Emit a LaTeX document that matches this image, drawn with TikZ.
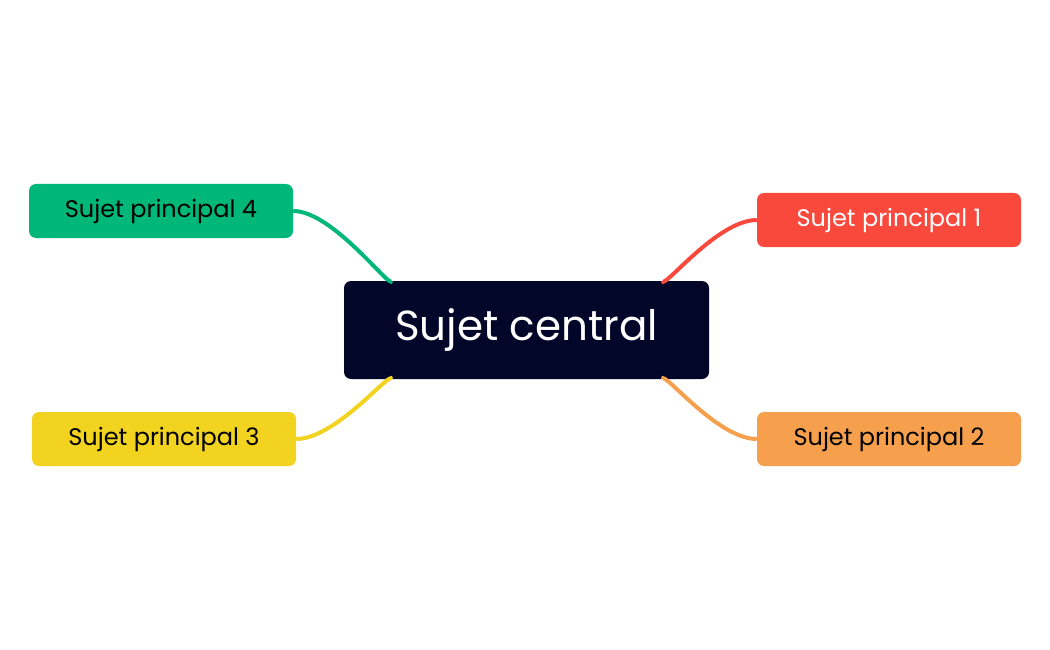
\documentclass[tikz,border=0pt]{standalone}
\usepackage{fontspec}
\setmainfont{Poppins}
\definecolor{navy}{HTML}{020628}
\definecolor{cred}{HTML}{F9483C}
\definecolor{corange}{HTML}{F6A04D}
\definecolor{cyellow}{HTML}{F2D31F}
\definecolor{cgreen}{HTML}{00B77A}
\begin{document}
\begin{tikzpicture}[x=1pt,y=-1pt,
  topic/.style={rounded corners=7pt,minimum width=264pt,minimum height=54pt,inner sep=0pt,font=\fontsize{24}{26}\selectfont},
  link/.style={line width=4pt}]
\useasboundingbox (0,0) rectangle (1050,650);
\node[fill=navy,rounded corners=7pt,minimum width=365pt,minimum height=98pt,text=white,font=\fontsize{42}{46}\selectfont] (c) at (526.5,330) {Sujet central};
\node[topic,fill=cred,text=white] (n1) at (889,220) {Sujet principal 1};
\node[topic,fill=corange] (n2) at (889,439) {Sujet principal 2};
\node[topic,fill=cyellow] (n3) at (164,439) {Sujet principal 3};
\node[topic,fill=cgreen] (n4) at (161,211) {Sujet principal 4};
\coordinate (a1) at ([xshift=136pt]c.north);
\coordinate (a2) at ([xshift=136pt]c.south);
\coordinate (a3) at ([xshift=-135pt]c.south);
\coordinate (a4) at ([xshift=-135pt]c.north);
\begin{scope}[on background layer/.style={}]
\draw[link,cred] (a1) .. controls ++(0,-10pt) and ++(-40pt,0) .. ([yshift=0pt]n1.west);
\draw[link,corange] (a2) .. controls ++(0,10pt) and ++(-40pt,0) .. (n2.west);
\draw[link,cyellow] (a3) .. controls ++(0,10pt) and ++(40pt,0) .. (n3.east);
\draw[link,cgreen] (a4) .. controls ++(0,-10pt) and ++(40pt,0) .. (n4.east);
\end{scope}
\end{tikzpicture}
\end{document}
